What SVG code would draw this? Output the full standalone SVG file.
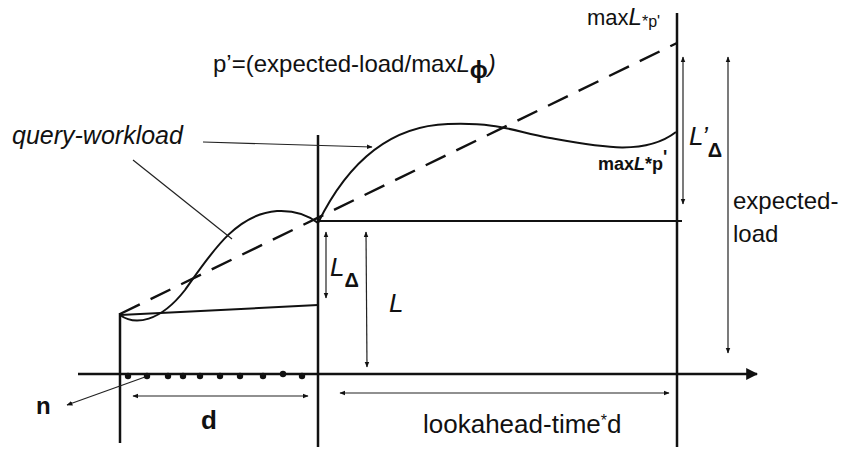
<svg xmlns="http://www.w3.org/2000/svg" width="848" height="452" viewBox="0 0 848 452">
<style>
.t{font-family:"Liberation Sans",Arial,sans-serif;fill:#111}
.ax{stroke:#111;stroke-width:2.5;fill:none}
.ln{stroke:#111;stroke-width:2;fill:none}
.thin{stroke:#222;stroke-width:1.2;fill:none}
.dash{stroke:#111;stroke-width:2.5;fill:none;stroke-dasharray:22 12}
</style>
<defs>
<marker id="ah" viewBox="0 0 10 10" refX="9" refY="5" markerWidth="6" markerHeight="6" orient="auto-start-reverse" markerUnits="userSpaceOnUse">
<path d="M0,1 L10,5 L0,9 z" fill="#111"/>
</marker>
<marker id="big" viewBox="0 0 10 10" refX="9" refY="5" markerWidth="12" markerHeight="12" orient="auto" markerUnits="userSpaceOnUse">
<path d="M0,0 L10,5 L0,10 z" fill="#111"/>
</marker>
</defs>
<g id="axes">
<line class="ax" x1="78" y1="374" x2="757" y2="374" marker-end="url(#big)"/>
<line class="ax" x1="120" y1="313" x2="120" y2="443"/>
<line class="ax" x1="318" y1="135" x2="318" y2="447"/>
<line class="ax" x1="677" y1="13" x2="677" y2="447"/>
<line class="ln" x1="120" y1="315" x2="318" y2="305"/>
<line class="ln" x1="318" y1="221" x2="682" y2="221"/>
</g>
<g id="dots" fill="#111">
<circle cx="128" cy="376" r="3.2"/><circle cx="147" cy="376" r="3.2"/><circle cx="168" cy="376" r="3.2"/><circle cx="183" cy="376" r="3.2"/><circle cx="200" cy="376" r="3.2"/><circle cx="220" cy="376" r="3.2"/><circle cx="240" cy="376" r="3.2"/><circle cx="263" cy="376" r="3.2"/><circle cx="283" cy="374" r="3.2"/><circle cx="302" cy="376" r="3.2"/>
</g>
<g id="curves">
<line class="dash" x1="120" y1="314" x2="677" y2="43"/>
<path class="ln" d="M120,315 C135,326 160,322 185,290 C210,255 235,214 277,211 C296,210 308,215 318,223"/>
<path class="ln" d="M318,223 C345,168 385,126 448,124 C500,122 515,132 550,138 C600,147 645,156 676,132"/>
</g>
<g id="connectors">
<line class="thin" x1="133" y1="160" x2="232" y2="239"/>
<line class="thin" x1="203" y1="142" x2="372" y2="147" marker-end="url(#ah)"/>
<line class="thin" x1="145" y1="377" x2="67" y2="405" marker-end="url(#ah)"/>
<line class="thin" x1="683" y1="57" x2="683" y2="204" marker-start="url(#ah)" marker-end="url(#ah)"/>
<line class="thin" x1="728" y1="57" x2="728" y2="353" marker-start="url(#ah)" marker-end="url(#ah)"/>
<line class="thin" x1="326" y1="232" x2="326" y2="298" marker-start="url(#ah)" marker-end="url(#ah)"/>
<line class="thin" x1="366" y1="232" x2="367" y2="367" marker-start="url(#ah)" marker-end="url(#ah)"/>
<line class="thin" x1="133" y1="396" x2="308" y2="396" marker-start="url(#ah)" marker-end="url(#ah)"/>
<line class="thin" x1="340" y1="393" x2="669" y2="393" marker-start="url(#ah)" marker-end="url(#ah)"/>
</g>
<g id="labels">
<text class="t" x="587" y="25" font-size="22">max<tspan font-style="italic" font-size="24">L</tspan><tspan font-size="16" dy="2">*p'</tspan></text>
<text class="t" x="213" y="72" font-size="24">p’=(expected-load/max<tspan font-style="italic">L</tspan><tspan font-size="24" font-weight="bold" dy="6">ϕ</tspan><tspan font-style="italic" dy="-6">)</tspan></text>
<text class="t" x="12" y="144" font-size="25" font-style="italic">query-workload</text>
<text class="t" x="598" y="170" font-size="18" font-weight="bold">max<tspan font-style="italic">L</tspan>*p<tspan dy="-7">'</tspan></text>
<text class="t" x="689" y="145" font-size="26" font-style="italic">L’<tspan font-style="normal" font-weight="bold" font-size="20" dy="12">Δ</tspan></text>
<text class="t" x="733" y="209" font-size="24">expected-</text>
<text class="t" x="733" y="242" font-size="24">load</text>
<text class="t" x="330" y="276" font-size="26" font-style="italic">L<tspan font-style="normal" font-weight="bold" font-size="20" dy="11">Δ</tspan></text>
<text class="t" x="389" y="312" font-size="26" font-style="italic">L</text>
<text class="t" x="36" y="414" font-size="24" font-weight="bold">n</text>
<text class="t" x="201" y="429" font-size="26" font-weight="bold">d</text>
<text class="t" x="423" y="433" font-size="26">lookahead-time<tspan font-size="16" dy="-7">*</tspan><tspan dy="7">d</tspan></text>
</g>
</svg>
